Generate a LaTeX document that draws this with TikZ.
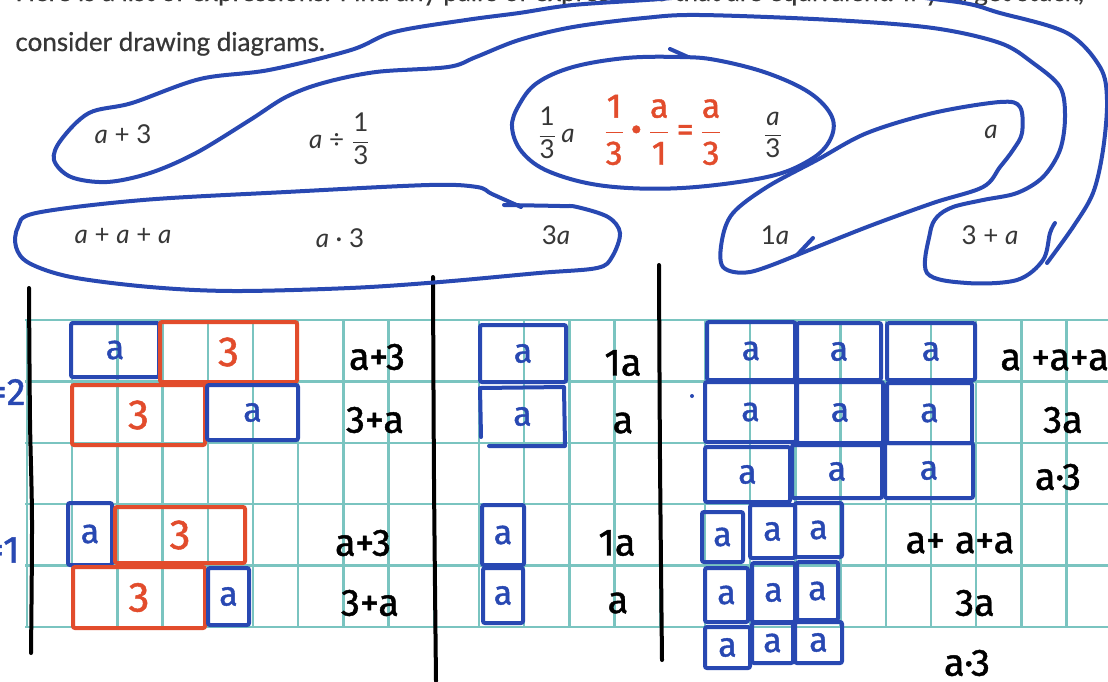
\documentclass[tikz,border=0pt]{standalone}
\usepackage{amsmath}
\usepackage{fontspec}
\setmainfont{Lato}
\newfontfamily\headfont[FakeBold=0.6]{Lato}
\newfontfamily\handfont[FakeBold=1.2]{Fira Sans}
\definecolor{penblue}{RGB}{40,72,178}
\definecolor{penred}{RGB}{226,76,44}
\definecolor{gridteal}{RGB}{122,196,192}
\definecolor{inkgray}{RGB}{55,55,55}

\begin{document}
\begin{tikzpicture}[
    x=0.5pt, y=-0.5pt,
    header/.style={text=inkgray, inner sep=0pt, anchor=base west, font=\headfont\fontsize{13}{15}\selectfont},
    printed/.style={text=inkgray, inner sep=0pt, font=\fontsize{13}{15}\selectfont},
    hand/.style={inner sep=0pt, font=\handfont\fontsize{19}{21}\selectfont},
    loopline/.style={draw=penblue, line width=2pt, line cap=round, line join=round},
    gridline/.style={draw=gridteal, line width=1.2pt},
    divider/.style={draw=black, line width=2pt, line cap=round},
    ablock/.style={draw=penblue, line width=2pt, rounded corners=1pt, inner sep=0pt, text=penblue, font=\handfont\fontsize{17}{19}\selectfont},
    threeblock/.style={draw=penred, line width=2pt, rounded corners=1pt, inner sep=0pt, text=penred, font=\handfont\fontsize{21}{23}\selectfont},
    redwork/.style={text=penred, inner sep=0pt, font=\handfont\fontsize{17}{19}\selectfont}
]
\useasboundingbox (0,0) rectangle (1108,681);
\fill[white] (0,0) rectangle (1108,681);

% grid paper
\foreach \r in {0,...,5}
  \draw[gridline] (25,{320+61.4*\r}) -- (1108,{320+61.4*\r});
\foreach \c in {0,...,23}
  \draw[gridline] ({27+45.2*\c},320) -- ({27+45.2*\c},627);

% column dividers
\draw[divider] plot[smooth] coordinates {(29,288) (30,420) (32,520) (31,653)};
\draw[divider] plot[smooth] coordinates {(433,277) (434,480) (436,681)};
\draw[divider] plot[smooth] coordinates {(659,265) (660,460) (662,660)};

% instructions
\node[header] (intro1) at (15,1) {Here is a list of expressions. Find any pairs of expressions that are equivalent. If you get stuck,};
\node[header] (intro2) at (15,51) {consider drawing diagrams.};

% expressions
\node[printed] (ea3) at (123,134) {\textit{a} + 3};
\node[printed] (ediv) at (340,139) {\textit{a} ÷ $\dfrac{\text{1}}{\text{3}}$};
\node[printed] (ethird) at (556,133) {$\dfrac{\text{1}}{\text{3}}$\,\textit{a}};
\node[printed] (eover) at (773,135) {$\dfrac{\text{\itshape a}}{\text{3}}$};
\node[printed] (ea) at (991,132) {\textit{a}};
\node[printed] (esum) at (123,236) {\textit{a} + \textit{a} + \textit{a}};
\node[printed] (edot) at (340,238) {\textit{a} · 3};
\node[printed] (e3a) at (556,235) {3\textit{a}};
\node[printed] (e1a) at (775,235) {1\textit{a}};
\node[printed] (e3pa) at (990,235) {3 + \textit{a}};

% red working in the ellipse
\node[redwork] (work) at (663,130) {$\dfrac{\text{1}}{\text{3}}\,\text{•}\,\dfrac{\text{a}}{\text{1}}\,\text{=}\,\dfrac{\text{a}}{\text{3}}$};

% left panel: a+3 and 3+a
\node[text=penblue, hand, anchor=east] (eqtwo) at (26,392) {=2};
\node[text=penblue, hand, anchor=east] (eqone) at (20,550) {=1};
\node[ablock, minimum width=44pt, minimum height=27pt] (la1) at (115,350) {a};
\node[threeblock, minimum width=68.5pt, minimum height=30pt] (lt1) at (228.5,352) {3};
\node[threeblock, minimum width=66.5pt, minimum height=30pt] (lt2) at (138.5,415) {3};
\node[ablock, minimum width=45.5pt, minimum height=27.5pt] (la2) at (252.5,412.5) {a};
\node[ablock, minimum width=22pt, minimum height=31pt] (la3) at (90,534) {a};
\node[threeblock, minimum width=65pt, minimum height=28pt] (lt3) at (180,535) {3};
\node[threeblock, minimum width=66pt, minimum height=30.5pt] (lt4) at (139,597.5) {3};
\node[ablock, minimum width=20.5pt, minimum height=28.5pt] (la4) at (228.5,596.5) {a};
\node[hand] (ll1) at (377,357) {a+3};
\node[hand] (ll2) at (375,420) {3+a};
\node[hand] (ll3) at (363,543) {a+3};
\node[hand] (ll4) at (370,603) {3+a};

% middle panel: 1a and a
\node[ablock, minimum width=43pt, minimum height=28.5pt] (ma1) at (523,353.5) {a};
\node[ablock, draw=none] (ma2) at (522.5,416.5) {a};
\draw[loopline] (489,446) -- (565,446) -- (564,387) -- (480,388) -- (481,437);
\node[ablock, minimum width=21pt, minimum height=30pt] (ma3) at (503,535) {a};
\node[ablock, minimum width=20pt, minimum height=27.5pt] (ma4) at (503,595.5) {a};
\node[hand] (ml1) at (623,363) {1a};
\node[hand] (ml2) at (623,423) {a};
\node[hand] (ml3) at (617,543) {1a};
\node[hand] (ml4) at (618,603) {a};

% right panel: three rows of a
\node[ablock, minimum width=44pt, minimum height=29pt] (ra1) at (751,351) {a};
\node[ablock, minimum width=42pt, minimum height=28.5pt] (ra2) at (839,351.5) {a};
\node[ablock, minimum width=44pt, minimum height=28.5pt] (ra3) at (931,351.5) {a};
\node[ablock, minimum width=45.5pt, minimum height=30pt] (ra4) at (750.5,412) {a};
\node[ablock, minimum width=43pt, minimum height=30.5pt] (ra5) at (840,412.5) {a};
\node[ablock, minimum width=42.5pt, minimum height=30pt] (ra6) at (929.5,413) {a};
\node[ablock, minimum width=42.5pt, minimum height=27.5pt] (ra7) at (747.5,474.5) {a};
\node[ablock, minimum width=45pt, minimum height=26.5pt] (ra8) at (837,471.5) {a};
\node[ablock, minimum width=44pt, minimum height=27.5pt] (ra9) at (929,470.5) {a};
\node[ablock, minimum width=20.5pt, minimum height=25pt] (rs1) at (722.5,537) {a};
\node[ablock, minimum width=22.5pt, minimum height=26.5pt] (rs2) at (772.5,531.5) {a};
\node[ablock, minimum width=23.5pt, minimum height=27pt] (rs3) at (818.5,530) {a};
\node[ablock, minimum width=21.5pt, minimum height=27pt] (rs4) at (726.5,595) {a};
\node[ablock, minimum width=21.5pt, minimum height=29.5pt] (rs5) at (773.5,592.5) {a};
\node[ablock, minimum width=20.5pt, minimum height=29pt] (rs6) at (817.5,591) {a};
\node[ablock, minimum width=22.5pt, minimum height=20.5pt] (rs7) at (727.5,647.5) {a};
\node[ablock, minimum width=20.5pt, minimum height=20pt] (rs8) at (772.5,643) {a};
\node[ablock, minimum width=23.5pt, minimum height=20.5pt] (rs9) at (818.5,642.5) {a};
\fill[penblue] (692,396) circle (2);
\node[hand, anchor=west] (rl1) at (1000,360) {a +a+a};
\node[hand] (rl2) at (1063,420) {3a};
\node[hand] (rl3) at (1058,477) {a·3};
\node[hand] (rl4) at (960,543) {a+ a+a};
\node[hand] (rl5) at (975,603) {3a};
\node[hand] (rl6) at (967,663) {a·3};

% loops round equivalent expressions
\draw[loopline] plot[smooth, tension=0.55] coordinates {
  (1047,263) (1073,227) (1093,193) (1103,150) (1107,100) (1100,67) (1067,33)
  (1000,13) (950,1) (800,-12) (660,-1) (573,5) (519,13) (466,20) (394,32)
  (351,50) (269,70) (200,79) (132,103) (89,113) (61,140) (54,160) (71,177)
  (107,182) (150,173) (196,153) (250,120) (286,97) (323,83) (376,72) (448,67)
  (476,57) (519,40) (573,27) (644,18) (700,15) (833,20) (933,28) (1000,43)
  (1033,63) (1060,87) (1065,117) (1060,150) (1043,177) (1017,193) (983,200)
  (953,207) (937,217) (930,233) (927,273) (967,283) (1017,280) (1043,260)
  (1050,233) (1055,223)};
\draw[loopline] plot[smooth cycle, tension=0.6] coordinates {
  (680,57) (626,58) (573,67) (537,83) (519,105) (512,127) (522,152) (550,172)
  (605,186) (682,188) (767,177) (810,160) (830,140) (832,117) (810,93) (767,73)
  (716,60)};
\draw[loopline] (670,49) -- (688,57);
\draw[loopline] plot[smooth, tension=0.55] coordinates {
  (797,255) (867,227) (933,203) (983,187) (1000,167) (1013,150) (1022,133)
  (1020,107) (1000,102) (933,113) (867,133) (817,160) (767,187) (733,213)
  (722,240) (723,267) (750,272) (797,255)};
\draw[loopline] (797,255) -- (813,238);
\draw[loopline] plot[smooth, tension=0.55] coordinates {
  (504,205) (560,206) (577,207) (608,217) (620,233) (612,257) (597,268)
  (539,273) (440,282) (350,288) (233,291) (150,287) (71,277) (29,263)
  (16,247) (18,227) (36,213) (143,200) (286,192) (429,185) (477,187)
  (492,194) (521,207)};
\end{tikzpicture}
\end{document}
